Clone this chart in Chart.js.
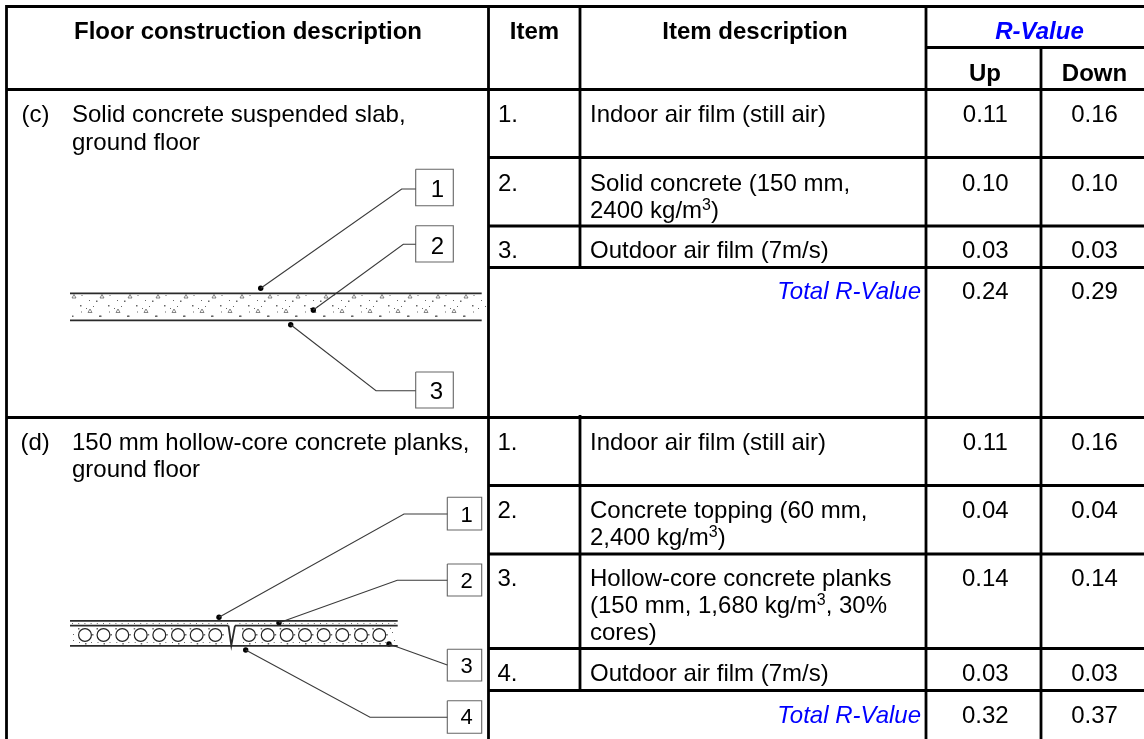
<!DOCTYPE html>
<html>
<head>
<meta charset="utf-8">
<script src="https://cdn.jsdelivr.net/npm/chart.js@4/dist/chart.umd.min.js"></script>
<style>html,body{margin:0;padding:0;background:#fff}canvas{display:block}</style>
</head>
<body>
<canvas id="c" width="1144" height="739"></canvas>
<script>
// ---------- table content ----------
const headers = ["Floor construction description","Item","Item description","R-Value","Up","Down"];
const totalLabel = "Total R-Value";
const sectionC = ["(c)","Solid concrete suspended slab,","ground floor"];
const sectionD = ["(d)","150 mm hollow-core concrete planks,","ground floor"];
const itemsC = ["1.","2.","3."];
const itemsD = ["1.","2.","3.","4."];
const descC = [["Indoor air film (still air)"],["Solid concrete (150 mm,","2400 kg/m³)"],["Outdoor air film (7m/s)"]];
const descD = [["Indoor air film (still air)"],["Concrete topping (60 mm,","2,400 kg/m³)"],["Hollow-core concrete planks","(150 mm, 1,680 kg/m³, 30%","cores)"],["Outdoor air film (7m/s)"]];
const upC = ["0.11","0.10","0.03","0.24"];
const downC = ["0.16","0.10","0.03","0.29"];
const upD = ["0.11","0.04","0.14","0.03","0.32"];
const downD = ["0.16","0.04","0.14","0.03","0.37"];
const calloutsC = ["1","2","3"];
const calloutsD = ["1","2","3","4"];

// ---------- layout (page geometry, in axis units) ----------
const W = 1144, H = 739;
const colX = {left:6.5, item:488.5, desc:580, up:926, down:1041, right:1144};
const rowY = {top:6.5, rv:47.5, head:89.5, sec:417.5};
const linesC = [157.5,226,267.5], linesD = [485.5,554,648.5,690.5];
const baseC = [122,191,258,299], baseD = [450,518,586,681,722.5];
const lineH = 27;

const gridSegs = [
  [[colX.left,rowY.top],[colX.right,rowY.top]],
  [[colX.up,rowY.rv],[colX.right,rowY.rv]],
  [[colX.left,rowY.head],[colX.right,rowY.head]],
  [[colX.left,rowY.sec],[colX.right,rowY.sec]],
  [[colX.left,5],[colX.left,H]],
  [[colX.item,5],[colX.item,H]],
  [[colX.up,5],[colX.up,H]],
  [[colX.down,rowY.rv],[colX.down,H]],
  [[colX.desc,5],[colX.desc,linesC[2]]],
  [[colX.desc,415],[colX.desc,linesD[3]]],
  ...linesC.concat(linesD).map(y=>[[colX.item,y],[colX.right,y]])
];
const slabSegs = [
  [[70,293.3],[481.7,293.3]],[[70,320.3],[481.7,320.3]],
  [[70,620.8],[397.7,620.8]],[[70,625.6],[228.5,625.6]],[[235,625.6],[397.7,625.6]],
  [[70,645.8],[397.7,645.8]],
  [[228.5,625.6],[231.3,645.5],[235,625.6]]
];
const leadersC = [
  [[260.7,288.3],[401.7,189],[415.7,189]],
  [[313.3,310],[403.3,244.3],[415.7,244.3]],
  [[290.7,324.7],[376,390.7],[415.7,390.7]]
];
const leadersD = [
  [[219,617.3],[404,514],[447.3,514]],
  [[279,622.7],[397.3,580.3],[447.3,580.3]],
  [[389,644],[447.3,665]],
  [[245.7,650],[370,717.3],[447.3,717.3]]
];
const boxesC = [[415.7,453.3,169.3,205.7],[415.7,453.3,225.7,262],[415.7,453.3,372,408]];
const boxesD = [[447.3,481.7,497.3,530],[447.3,481.7,564,596],[447.3,481.7,649.3,681],[447.3,481.7,700.7,733.3]];
const digitsC = [[437.5,196.7],[437.5,254],[436.5,399]];
const digitsD = [[466.5,521.7],[466.5,587.7],[466.5,672.7],[466.5,724.3]];
const coreX = [85,103.5,122.3,140.7,159.3,178,196.7,215.3,249,267.7,286.7,305,323.7,342.3,361,379.3];
const coreY = 635, coreR = 6.4;

const seg = (pts,color,width)=>({
  type:'scatter',showLine:true,data:pts.map(p=>({x:p[0],y:p[1]})),
  borderColor:color,backgroundColor:color,borderWidth:width,pointRadius:0,clip:false,tension:0,
  borderCapStyle:'butt',borderJoinStyle:'miter'
});
const boxPts = b=>[[b[0],b[2]],[b[1],b[2]],[b[1],b[3]],[b[0],b[3]],[b[0],b[2]]];
const allLeaders = leadersC.concat(leadersD);
const datasets = [
  ...gridSegs.map(s=>seg(s,'#000',2.8)),
  ...slabSegs.map(s=>seg(s,'#2a2a2a',1.8)),
  ...allLeaders.map(s=>seg(s,'#3a3a3a',1.1)),
  ...boxesC.concat(boxesD).map(b=>seg(boxPts(b),'#666',1.1)),
  {type:'scatter',showLine:false,data:allLeaders.map(l=>({x:l[0][0],y:l[0][1]})),
   backgroundColor:'#000',borderColor:'#000',pointRadius:2.7,borderWidth:0,clip:false},
  {type:'scatter',showLine:false,data:coreX.map(x=>({x,y:coreY})),
   backgroundColor:'rgba(0,0,0,0)',borderColor:'#222',pointRadius:coreR,borderWidth:1.2,clip:false}
];

const FONT = '"Liberation Sans", Arial, sans-serif';
const tablePlugin = {
  id:'tableText',
  beforeDraw(chart){
    const c = chart.ctx; c.save(); c.fillStyle='#fff'; c.fillRect(0,0,W,H); c.restore();
  },
  beforeDatasetsDraw(chart){
    const c = chart.ctx, X = chart.scales.x, Y = chart.scales.y;
    const px = v=>X.getPixelForValue(v), py = v=>Y.getPixelForValue(v);
    c.save();
    c.fillStyle='#666'; c.strokeStyle='#555'; c.lineWidth=0.7;
    const speck=(x,y,s=1)=>c.fillRect(px(x),py(y),s,s);
    const tri=(x,y)=>{c.beginPath();c.moveTo(px(x),py(y-2));c.lineTo(px(x+2),py(y+1.5));c.lineTo(px(x-2),py(y+1.5));c.closePath();c.stroke();};
    // concrete texture, slab (c)
    for(let x=74;x<480;x+=28){
      tri(x,296.5); speck(x+7.5,295); speck(x+6,305,1.5); speck(x+22,300.5,1.5); speck(x+15,300);
      if(x+16<480) tri(x+16,311);
      speck(x+7,311.5); speck(x-2,315.5,1.5);
      if(x+25<480) speck(x+25,315.5,1.5);
      speck(x+12,308); speck(x+19,306);
    }
    // concrete texture, planks (d)
    for(let x=72;x<396;x+=6.2){ if(x<227||x>236) speck(x,623); }
    for(let i=0;i<coreX.length;i++){
      const x=coreX[i];
      speck(x-7,628,1.5); speck(x,643,1.5); speck(x+7,634,1.5); speck(x-6,642); speck(x+6,642);
    }
    speck(73,634); speck(73,640); speck(392,632); speck(394,640); speck(390,628);
    c.restore();
  },
  afterDatasetsDraw(chart){
    const c = chart.ctx, X = chart.scales.x, Y = chart.scales.y;
    const t=(s,x,y,o={})=>{
      c.font=(o.style||'')+' '+(o.size||24)+'px '+FONT;
      c.fillStyle=o.color||'#000';
      c.textAlign=o.align||'left';
      c.textBaseline='alphabetic';
      c.fillText(s,X.getPixelForValue(x),Y.getPixelForValue(y));
    };
    // text with a raised exponent: drawn as three runs
    const rich=(s,x,y)=>{
      const k=s.indexOf('³');
      if(k<0){t(s,x,y);return;}
      const a=s.slice(0,k),b=s.slice(k+1);
      t(a,x,y);
      c.font='24px '+FONT; const wa=c.measureText(a).width;
      t('3',x+wa,y-8,{size:16});
      c.font='16px '+FONT; const w3=c.measureText('3').width;
      t(b,x+wa+w3,y);
    };
    c.save();
    const ctr={align:'center'};
    // header
    t(headers[0],248,39,{style:'bold',align:'center'});
    t(headers[1],534.5,39,{style:'bold',align:'center'});
    t(headers[2],755,39,{style:'bold',align:'center'});
    t(headers[3],1039.5,39,{style:'italic bold',align:'center',color:'#0000ff'});
    t(headers[4],985,80.5,{style:'bold',align:'center'});
    t(headers[5],1094.5,80.5,{style:'bold',align:'center'});
    // left descriptions
    t(sectionC[0],21.5,122); t(sectionC[1],72,122); t(sectionC[2],72,150);
    t(sectionD[0],20.5,449.5); t(sectionD[1],72,449.5); t(sectionD[2],72,476.5);
    // items
    itemsC.forEach((s,i)=>{
      t(s,498,baseC[i]);
      descC[i].forEach((l,j)=>rich(l,590,baseC[i]+j*lineH));
    });
    itemsD.forEach((s,i)=>{
      t(s,497.5,baseD[i]);
      descD[i].forEach((l,j)=>rich(l,590,baseD[i]+j*lineH));
    });
    // totals
    t(totalLabel,921,baseC[3],{style:'italic',align:'right',color:'#0000ff'});
    t(totalLabel,921,baseD[4],{style:'italic',align:'right',color:'#0000ff'});
    // R-values
    upC.forEach((s,i)=>t(s,985.3,baseC[i],ctr));
    downC.forEach((s,i)=>t(s,1094.5,baseC[i],ctr));
    upD.forEach((s,i)=>t(s,985.3,baseD[i],ctr));
    downD.forEach((s,i)=>t(s,1094.5,baseD[i],ctr));
    // callouts
    calloutsC.forEach((s,i)=>t(s,digitsC[i][0],digitsC[i][1],{align:'center',size:24}));
    calloutsD.forEach((s,i)=>t(s,digitsD[i][0],digitsD[i][1],{align:'center',size:22}));
    c.restore();
  }
};

new Chart(document.getElementById('c'),{
  type:'scatter',
  data:{datasets},
  options:{
    responsive:false,animation:false,devicePixelRatio:1,
    layout:{padding:0,autoPadding:false},
    plugins:{legend:{display:false},tooltip:{enabled:false},title:{display:false}},
    scales:{
      x:{type:'linear',min:0,max:W,display:false},
      y:{type:'linear',min:0,max:H,reverse:true,display:false}
    }
  },
  plugins:[tablePlugin]
});
</script>
</body>
</html>
